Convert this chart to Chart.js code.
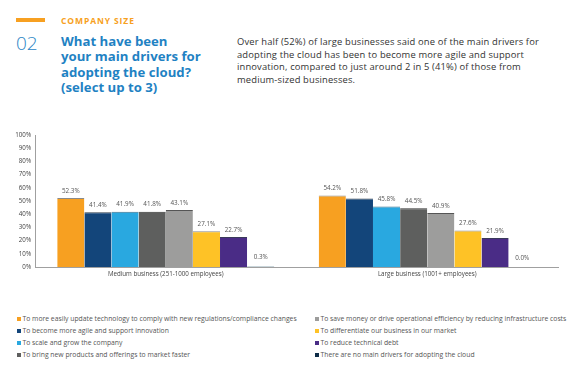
<!DOCTYPE html>
<html><head><meta charset="utf-8">
<script src="https://cdn.jsdelivr.net/npm/chart.js@4.4.0/dist/chart.umd.min.js"></script>
<style>
html,body{margin:0;padding:0;background:#fff;width:579px;height:379px;overflow:hidden;font-family:"Open Sans",Lato,sans-serif;}
#bar{position:absolute;left:16px;top:18px;width:29px;height:4px;background:#F7A021;}
#sec{position:absolute;left:61px;top:15px;font-size:8.5px;font-weight:700;color:#F7A021;letter-spacing:0.9px;}
#num{position:absolute;left:16px;top:30px;font-size:19px;font-weight:300;color:#2B86C5;}
#title{position:absolute;left:61px;top:34px;width:200px;font-size:13.2px;line-height:15.3px;font-weight:700;color:#1F82C3;white-space:nowrap;}
#desc{position:absolute;left:237px;top:36px;width:340px;font-size:9.4px;line-height:12.6px;color:#333;white-space:nowrap;letter-spacing:0.15px;}
#cw{position:absolute;left:0;top:125px;width:579px;height:165px;}
#legend{position:absolute;left:17px;top:314px;width:560px;font-size:6.8px;color:#555;}
.li{position:absolute;white-space:nowrap;}
.sw{display:inline-block;width:4px;height:4px;margin-right:1.5px;vertical-align:0px;}
</style></head><body>
<div id="bar"></div>
<div id="sec">COMPANY SIZE</div>
<div id="num">02</div>
<div id="title">What have been<br>your main drivers for<br>adopting the cloud?<br>(select up to 3)</div>
<div id="desc">Over half (52%) of large businesses said one of the main drivers for<br>adopting the cloud has been to become more agile and support<br>innovation, compared to just around 2 in 5 (41%) of those from<br>medium-sized businesses.</div>
<div id="cw"><canvas id="c" width="579" height="165"></canvas></div>
<div id="legend"></div>
<script>
const categories = ["Medium business (251-1000 employees)", "Large business (1001+ employees)"];
const seriesNames = [
  "To more easily update technology to comply with new regulations/compliance changes",
  "To become more agile and support innovation",
  "To scale and grow the company",
  "To bring new products and offerings to market faster",
  "To save money or drive operational efficiency by reducing infrastructure costs",
  "To differentiate our business in our market",
  "To reduce technical debt",
  "There are no main drivers for adopting the cloud"
];
const mediumValues = [52.3, 41.4, 41.9, 41.8, 43.1, 27.1, 22.7, 0.3];
const largeValues  = [54.2, 51.8, 45.8, 44.5, 40.9, 27.6, 21.9, 0.0];
const yTicks = [0,10,20,30,40,50,60,70,80,90,100];
const colors = ["#F7A021","#13457A","#29A8E0","#5E5F5E","#9D9D9C","#FEC226","#4A2C86","#0E2C47"];
const borders = ["#8a8a8a","#2a3a4a","#3a6f8a","#333333","#555555","#8a8a8a","#3a3a5a","#2f7a80"];

const datasets = seriesNames.map((n,i)=>({
  label:n,
  data:[mediumValues[i], largeValues[i]],
  backgroundColor:colors[i],
  borderColor:borders[i],
  borderWidth:{top:1,left:0,right:0,bottom:0},
  borderSkipped:'bottom',
  categoryPercentage:0.83,
  barPercentage:1.0
}));

const labelPlugin = {
  id:'vals',
  afterDatasetsDraw(chart){
    const ctx = chart.ctx;
    ctx.save();
    ctx.font = '6.3px "Open Sans", sans-serif';
    ctx.fillStyle = '#555';
    ctx.textAlign = 'center';
    ctx.textBaseline = 'bottom';
    chart.data.datasets.forEach((ds,di)=>{
      const meta = chart.getDatasetMeta(di);
      meta.data.forEach((bar,i)=>{
        const v = ds.data[i];
        ctx.fillText(v.toFixed(1)+'%', bar.x, bar.y - (v < 1 ? 6 : 4));
      });
    });
    ctx.restore();
  }
};

new Chart(document.getElementById('c'), {
  type:'bar',
  data:{labels:categories, datasets},
  options:{
    responsive:false, animation:false,
    layout:{padding:{top:10,right:21,left:0,bottom:0}},
    plugins:{legend:{display:false}, tooltip:{enabled:false}},
    scales:{
      x:{
        grid:{display:false, drawTicks:false},
        border:{display:true,color:'#a0a0a0',width:1},
        ticks:{color:'#444',font:{size:6.2,family:'"Open Sans", sans-serif'},padding:4},
        afterFit(s){ s.height = 23; }
      },
      y:{
        min:0,max:100,
        afterBuildTicks(s){ s.ticks = yTicks.map(v=>({value:v})); },
        grid:{display:false, drawTicks:false},
        border:{display:true,color:'#a0a0a0',width:1},
        ticks:{color:'#444',font:{size:6.2,family:'"Open Sans", sans-serif'},padding:4,callback:v=>v+'%'},
        afterFit(s){ s.width = 35; }
      }
    }
  },
  plugins:[labelPlugin]
});

const lg = document.getElementById('legend');
seriesNames.forEach((n,i)=>{
  const col = i<4?0:1, row = i%4;
  const d = document.createElement('div');
  d.className='li';
  d.style.left = (col*298)+'px';
  d.style.top = (row*12)+'px';
  d.innerHTML = '<span class="sw" style="background:'+colors[i]+'"></span>'+n;
  lg.appendChild(d);
});
</script>
</body></html>
